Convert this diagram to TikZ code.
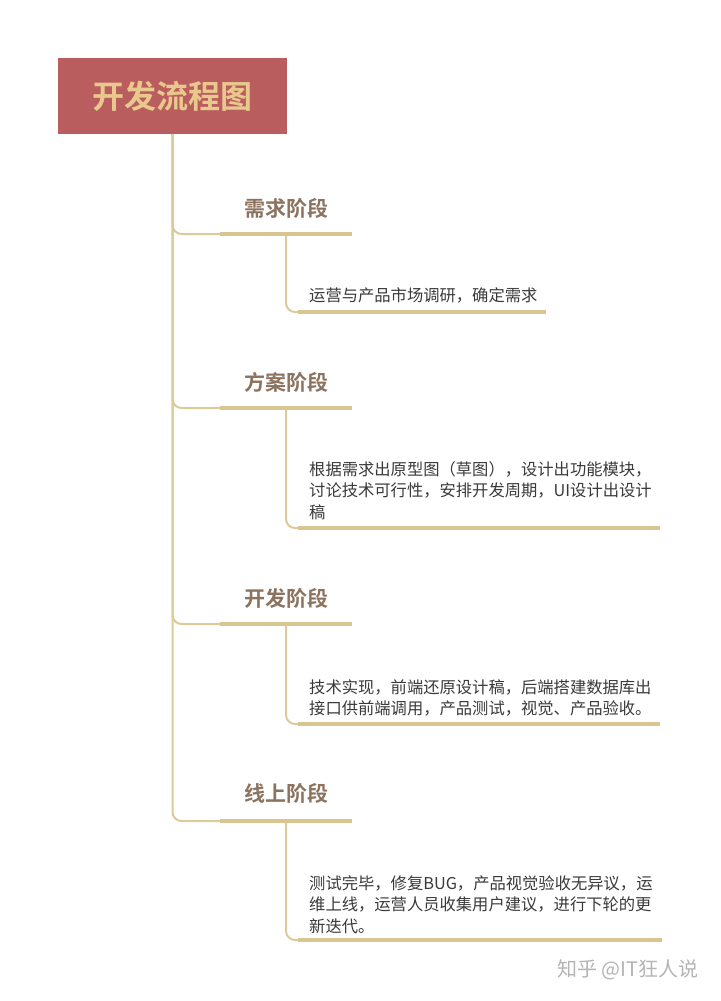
\documentclass[tikz,border=0pt]{standalone}
\usepackage{fontspec}
\newfontfamily\cjk{Noto Sans CJK SC}
\newfontfamily\cjkb{Noto Sans CJK SC Bold}
\definecolor{titlefill}{HTML}{B95D5E}
\definecolor{titletext}{HTML}{E9C88E}
\definecolor{labelc}{HTML}{8C735F}
\definecolor{linec}{HTML}{DCCA98}
\definecolor{barc}{HTML}{D9C58F}
\definecolor{bodyc}{HTML}{3A3A3A}
\definecolor{markc}{HTML}{B4B4B4}
\begin{document}
\begin{tikzpicture}[x=1pt,y=-1pt,
  trunk/.style={draw=linec, line width=2pt, rounded corners=9pt},
  bar/.style={draw=barc, line width=4.5pt},
  stage/.style={font=\cjkb\fontsize{21}{24}\selectfont, text=labelc, inner sep=0pt, anchor=west},
  body/.style={font=\cjk\fontsize{16.3}{21.5}\selectfont, text=bodyc, inner sep=0pt, anchor=north west, align=left}]
\useasboundingbox (0,0) rectangle (720,1001);
\fill[white] (0,0) rectangle (720,1001);
\node[fill=titlefill, minimum width=229pt, minimum height=76pt, inner sep=0pt,
  font=\cjkb\fontsize{32}{36}\selectfont, text=titletext] (title) at (172.5,96) {开发流程图};
% stage 1
\coordinate (b1w) at (220,234); \coordinate (b1e) at (352,234);
\coordinate (k1) at (286,234);
\coordinate (s1w) at (298,312); \coordinate (s1e) at (546,312);
% stage 2
\coordinate (b2w) at (220,408); \coordinate (b2e) at (352,408);
\coordinate (k2) at (286,408);
\coordinate (s2w) at (298,528); \coordinate (s2e) at (660,528);
% stage 3
\coordinate (b3w) at (220,624); \coordinate (b3e) at (352,624);
\coordinate (k3) at (286,624);
\coordinate (s3w) at (298,724); \coordinate (s3e) at (660,724);
% stage 4
\coordinate (b4w) at (220,821); \coordinate (b4e) at (352,821);
\coordinate (k4) at (286,821);
\coordinate (s4w) at (298,940); \coordinate (s4e) at (662,940);
\foreach \i in {1,2,3,4} {
  \draw[trunk] (title.south) |- (b\i w);
  \draw[trunk] (k\i) |- (s\i w);
  \draw[bar] (b\i w) -- (b\i e);
  \draw[bar] (s\i w) -- (s\i e);
}
\node[stage] (l1) at (244,208) {需求阶段};
\node[stage] (l2) at (244,382) {方案阶段};
\node[stage] (l3) at (244,598) {开发阶段};
\node[stage] (l4) at (244,793) {线上阶段};
\node[body] (t1) at (309,287) {运营与产品市场调研，确定需求};
\node[body] (t2) at (309,461) {根据需求出原型图（草图），设计出功能模块，\\讨论技术可行性，安排开发周期，UI设计出设计\\稿};
\node[body] (t3) at (309,679) {技术实现，前端还原设计稿，后端搭建数据库出\\接口供前端调用，产品测试，视觉、产品验收。};
\node[body] (t4) at (309,875) {测试完毕，修复BUG，产品视觉验收无异议，运\\维上线，运营人员收集用户建议，进行下轮的更\\新迭代。};
\node[font=\cjk\fontsize{20}{22}\selectfont, text=markc, inner sep=0pt] (wm) at (628,970) {知乎 @IT狂人说};
\end{tikzpicture}
\end{document}
